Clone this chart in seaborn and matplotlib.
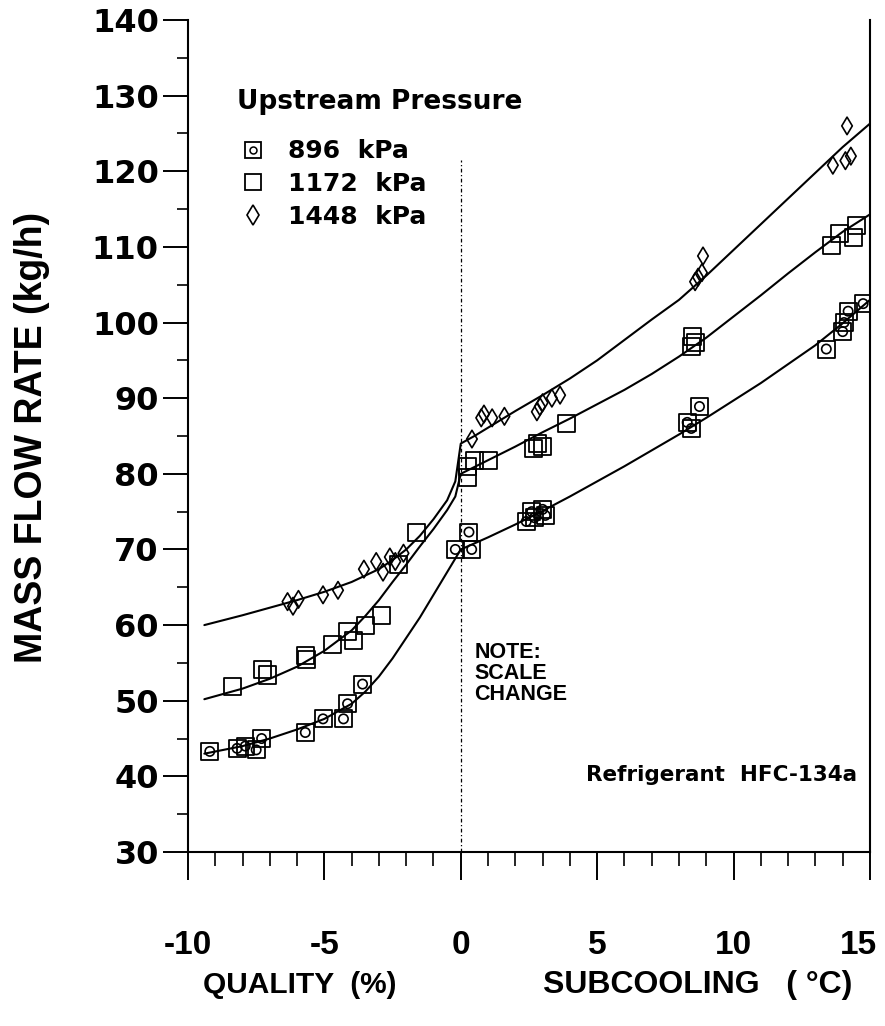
import matplotlib
matplotlib.use("Agg")
import matplotlib.pyplot as plt
from matplotlib.lines import Line2D
from matplotlib.ticker import MultipleLocator
from matplotlib.transforms import ScaledTranslation
import seaborn as sns
import numpy as np

sns.set_theme(style="ticks")
plt.rcParams['font.family'] = ['DejaVu Sans']
plt.rcParams['text.color'] = 'black'
plt.rcParams['axes.labelcolor'] = 'black'
plt.rcParams['xtick.color'] = 'black'
plt.rcParams['ytick.color'] = 'black'
plt.rcParams['axes.edgecolor'] = 'black'

# ---------------- data ----------------
# negative x = quality (%), positive x = subcooling (degC)
x_896 = [-9.2, -8.2, -7.9, -7.5, -7.3, -5.7, -5.05, -4.3, -4.15, -3.6,
         -0.2, 0.3, 0.4, 2.4, 2.6, 2.7, 3.0, 3.1,
         8.3, 8.45, 8.75, 13.4, 14.0, 14.05, 14.2, 14.75]
y_896 = [43.3, 43.7, 44.0, 43.5, 45.0, 45.8, 47.6, 47.6, 49.6, 52.2,
         70.0, 72.3, 70.0, 73.7, 75.0, 74.2, 75.3, 74.5,
         86.8, 86.0, 88.9, 96.5, 98.8, 100.0, 101.5, 102.5]

x_1172 = [-8.35, -7.25, -7.07, -5.7, -5.65, -4.72, -4.17, -3.95, -3.5, -2.9,
          -2.3, -1.64, 0.23, 0.26, 0.5, 1.0, 2.65, 2.8, 2.98, 3.86,
          8.47, 8.5, 8.6, 13.6, 13.9, 14.38, 14.52]
y_1172 = [51.9, 54.1, 53.4, 56.0, 55.4, 57.4, 59.1, 58.0, 60.0, 61.3,
          68.0, 72.2, 79.5, 81.0, 81.8, 81.8, 83.4, 84.0, 83.6, 86.6,
          96.8, 98.1, 97.4, 110.2, 111.8, 111.3, 112.8]

x_1448 = [-6.35, -6.15, -5.95, -5.05, -4.5, -3.55, -3.1, -2.85, -2.6, -2.4,
          -2.1, 0.41, 0.75, 0.85, 1.15, 1.6, 2.79, 2.9, 3.0, 3.34, 3.64,
          8.59, 8.7, 8.84, 8.88, 13.64, 14.1, 14.16, 14.3]
y_1448 = [63.1, 62.5, 63.4, 64.0, 64.6, 67.4, 68.4, 67.0, 69.0, 68.4,
          69.5, 84.6, 87.4, 87.9, 87.4, 87.6, 88.2, 88.9, 89.4, 90.0, 90.4,
          105.4, 106.0, 106.6, 108.8, 120.8, 121.4, 126.0, 122.0]

# fitted curves
cx_896 = [-9.4, -8, -7, -6, -5, -4, -3.5, -3, -2.5, -2, -1.5, -1, -0.5, 0,
          1, 2, 3, 4, 5, 6, 7, 8, 9, 10, 11, 12, 13, 14, 15]
cy_896 = [43.0, 44.0, 45.0, 46.2, 47.6, 49.6, 51.2, 53.2, 55.6, 58.3, 61.0, 64.0, 67.0, 70.0,
          71.6, 73.3, 75.1, 77.0, 79.0, 81.0, 83.1, 85.2, 87.4, 89.7, 92.0, 94.5, 97.0, 99.9, 103.0]

cx_1172 = [-9.4, -8, -7, -6, -5, -4, -3.5, -3, -2.5, -2, -1.5, -1, -0.5, -0.2, 0,
           1, 2, 3, 4, 5, 6, 7, 8, 9, 10, 11, 12, 13, 14, 15]
cy_1172 = [50.2, 51.6, 52.9, 54.5, 56.6, 59.3, 61.2, 63.3, 65.7, 68.0, 70.4, 72.7, 75.2, 77.0, 80.0,
           81.8, 83.6, 85.5, 87.3, 89.2, 91.1, 93.2, 95.5, 98.0, 100.8, 103.6, 106.5, 109.3, 112.0, 114.3]

cx_1448 = [-9.4, -8, -7, -6, -5, -4, -3, -2.5, -2, -1.5, -1, -0.5, -0.2, 0,
           0.5, 1, 2, 3, 4, 5, 6, 7, 8, 9, 10, 11, 12, 13, 14, 15]
cy_1448 = [60.0, 61.3, 62.3, 63.3, 64.4, 65.7, 67.4, 68.6, 70.0, 71.8, 74.0, 76.5, 79.0, 84.0,
           85.0, 86.1, 88.3, 90.4, 92.6, 95.0, 97.7, 100.4, 103.0, 106.2, 109.6, 113.0, 116.4, 119.8, 123.2, 126.3]

y_ticks = [30, 40, 50, 60, 70, 80, 90, 100, 110, 120, 130, 140]
x_ticks = [-10, -5, 0, 5, 10, 15]
x_ticklabels = ["-10", "-5", "0", "5", "10", "15"]
legend_title = "Upstream Pressure"
legend_labels = ["896  kPa", "1172  kPa", "1448  kPa"]

# ---------------- figure ----------------
fig = plt.figure(figsize=(8.85, 10.26), dpi=100)
ax = fig.add_axes([0.2124, 0.1696, 0.983 - 0.2124, 0.9805 - 0.1696])

lw_curve = 1.5
for cx, cy in [(cx_896, cy_896), (cx_1172, cy_1172), (cx_1448, cy_1448)]:
    sns.lineplot(x=cx, y=cy, sort=False, estimator=None, color='black', lw=lw_curve, ax=ax)

sns.scatterplot(x=x_896, y=y_896, marker='s', s=150, facecolor='none', edgecolor='black',
                linewidth=1.3, ax=ax, zorder=3)
sns.scatterplot(x=x_896, y=y_896, marker='o', s=45, facecolor='none', edgecolor='black',
                linewidth=1.2, ax=ax, zorder=3)
sns.scatterplot(x=x_1172, y=y_1172, marker='s', s=150, facecolor='none', edgecolor='black',
                linewidth=1.3, ax=ax, zorder=3)
sns.scatterplot(x=x_1448, y=y_1448, marker='d', s=80, facecolor='none', edgecolor='black',
                linewidth=1.2, ax=ax, zorder=3)

# scale change divider
ax.axvline(0, ymin=0, ymax=(121.5 - 30) / 110, color='black', lw=0.9,
           linestyle=(0, (3, 2, 1, 2)))

ax.set_xlim(-10, 15)
ax.set_ylim(30, 140)
ax.set_xticks(x_ticks)
ax.set_xticklabels(x_ticklabels)
ax.set_yticks(y_ticks)
ax.xaxis.set_minor_locator(MultipleLocator(1))
ax.yaxis.set_minor_locator(MultipleLocator(5))

for s in ['left', 'bottom', 'right']:
    ax.spines[s].set_linewidth(1.5)
    ax.spines[s].set_color('black')
ax.spines['top'].set_visible(False)

ax.tick_params(axis='y', which='major', direction='out', length=18, width=1.4,
               labelsize=23, pad=3, color='black', labelcolor='black')
ax.tick_params(axis='y', which='minor', direction='out', length=8, width=1.2, color='black')
ax.tick_params(axis='x', which='major', direction='out', length=20, width=1.4,
               labelsize=24, pad=36, color='black', labelcolor='black')
ax.tick_params(axis='x', which='minor', direction='out', length=10, width=1.2, color='black')
for t in ax.get_yticklabels():
    t.set_fontweight('bold')
xt = ax.get_xticklabels()
for t in xt:
    t.set_fontweight('bold')
    t.set_family(['Liberation Sans', 'DejaVu Sans'])
    t.set_fontsize(24)
xt[-1].set_transform(xt[-1].get_transform() + ScaledTranslation(-12 / 100, 0, fig.dpi_scale_trans))

ax.set_xlabel("")
ax.set_ylabel("")
fig.text(0.036, 0.574, "MASS FLOW RATE (kg/h)", rotation=90, ha='center', va='center',
         fontsize=27, fontweight='bold', family=['Liberation Sans', 'DejaVu Sans'])
fig.text(0.339, 0.040, "QUALITY  (%)", ha='center', va='center', fontsize=21.5, fontweight='bold',
         family=['Liberation Sans', 'DejaVu Sans'])
fig.text(0.788, 0.040, "SUBCOOLING   ( °C)", ha='center', va='center', fontsize=23, fontweight='bold',
         family=['Liberation Sans', 'DejaVu Sans'])

# annotations
ax.text(0.5, 57.8, "NOTE:\nSCALE\nCHANGE", ha='left', va='top', fontsize=15.5, fontweight='bold',
        linespacing=1.0, family=['Liberation Sans', 'DejaVu Sans'])
ax.text(4.6, 40.2, "Refrigerant  HFC-134a", ha='left', va='center', fontsize=15.5, fontweight='bold')

# legend (title drawn separately to match its spacing)
ax.text(-8.2, 129.2, legend_title, ha='left', va='center', fontsize=19, fontweight='bold')
h896 = (Line2D([], [], ls='none', marker='s', ms=11, mfc='none', mec='black', mew=1.3),
        Line2D([], [], ls='none', marker='o', ms=5, mfc='none', mec='black', mew=1.1))
h1172 = Line2D([], [], ls='none', marker='s', ms=12, mfc='none', mec='black', mew=1.3)
h1448 = Line2D([], [], ls='none', marker='d', ms=10, mfc='none', mec='black', mew=1.2)
leg = ax.legend([h896, h1172, h1448], legend_labels,
                loc='upper left', bbox_to_anchor=(0.058, 0.8715),
                frameon=False, fontsize=18,
                handlelength=1.0, handletextpad=0.9, labelspacing=0.35, borderpad=0)
for t in leg.get_texts():
    t.set_fontweight('bold')
    t.set_color('black')

fig.savefig("out.png", dpi=100, facecolor='white')
